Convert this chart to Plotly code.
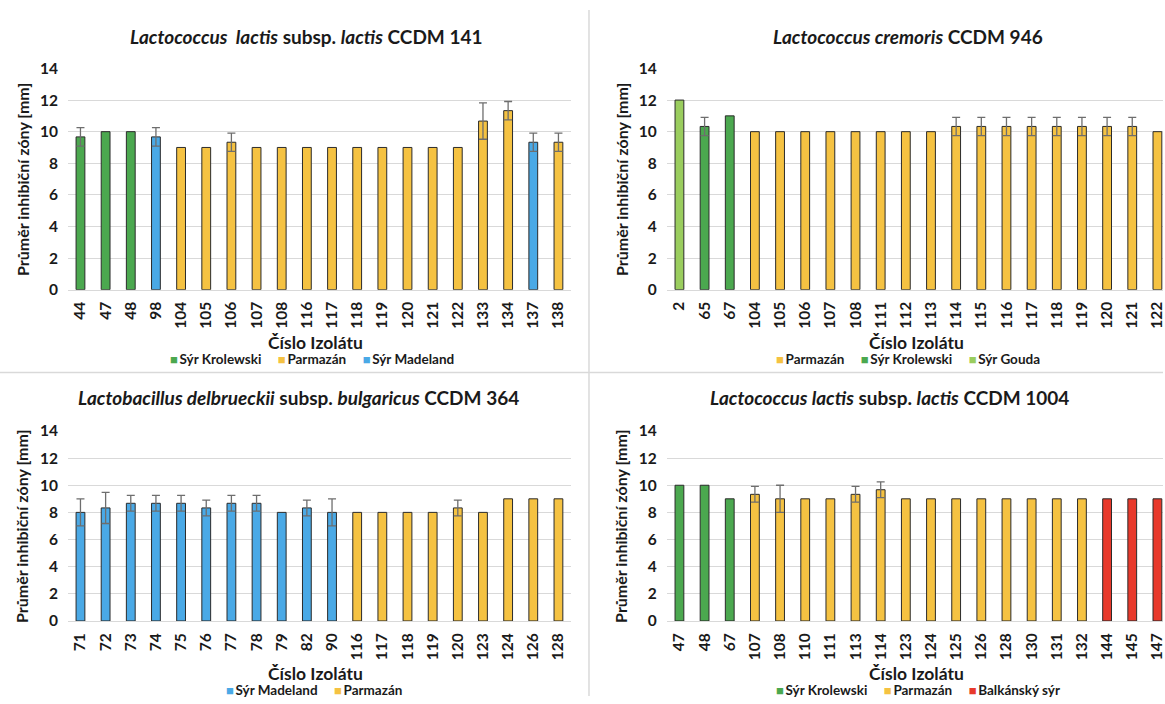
import plotly.graph_objects as go

W, H = 1165, 704

FONT = "Lato"
TXT = "#1a1a1a"
GRID = "#D9D9D9"

COLORS = {
    "Sýr Krolewski": "#4BA84F",
    "Parmazán": "#F5C242",
    "Sýr Madeland": "#4AA9E6",
    "Sýr Gouda": "#9ACD5E",
    "Balkánský sýr": "#E8392B",
}

# --- Lactococcus lactis subsp. lactis CCDM 141 ---
p1_ids = ["44", "47", "48", "98", "104", "105", "106", "107", "108", "116",
          "117", "118", "119", "120", "121", "122", "133", "134", "137", "138"]
p1_mean = [9.67, 10, 10, 9.67, 9, 9, 9.33, 9, 9, 9,
           9, 9, 9, 9, 9, 9, 10.67, 11.33, 9.33, 9.33]
p1_sd = [0.58, 0, 0, 0.58, 0, 0, 0.58, 0, 0, 0,
         0, 0, 0, 0, 0, 0, 1.15, 0.58, 0.58, 0.58]
p1_cheese = ["Sýr Krolewski"] * 3 + ["Sýr Madeland"] + ["Parmazán"] * 14 + ["Sýr Madeland", "Parmazán"]
p1_legend = ["Sýr Krolewski", "Parmazán", "Sýr Madeland"]

# --- Lactococcus cremoris CCDM 946 ---
p2_ids = ["2", "65", "67", "104", "105", "106", "107", "108", "111", "112",
          "113", "114", "115", "116", "117", "118", "119", "120", "121", "122"]
p2_mean = [12, 10.33, 11, 10, 10, 10, 10, 10, 10, 10,
           10, 10.33, 10.33, 10.33, 10.33, 10.33, 10.33, 10.33, 10.33, 10]
p2_sd = [0, 0.58, 0, 0, 0, 0, 0, 0, 0, 0,
         0, 0.58, 0.58, 0.58, 0.58, 0.58, 0.58, 0.58, 0.58, 0]
p2_cheese = ["Sýr Gouda"] + ["Sýr Krolewski"] * 2 + ["Parmazán"] * 17
p2_legend = ["Parmazán", "Sýr Krolewski", "Sýr Gouda"]

# --- Lactobacillus delbrueckii subsp. bulgaricus CCDM 364 ---
p3_ids = ["71", "72", "73", "74", "75", "76", "77", "78", "79", "82",
          "90", "116", "117", "118", "119", "120", "123", "124", "126", "128"]
p3_mean = [8, 8.33, 8.67, 8.67, 8.67, 8.33, 8.67, 8.67, 8, 8.33,
           8, 8, 8, 8, 8, 8.33, 8, 9, 9, 9]
p3_sd = [1, 1.15, 0.58, 0.58, 0.58, 0.58, 0.58, 0.58, 0, 0.58,
         1, 0, 0, 0, 0, 0.58, 0, 0, 0, 0]
p3_cheese = ["Sýr Madeland"] * 11 + ["Parmazán"] * 9
p3_legend = ["Sýr Madeland", "Parmazán"]

# --- Lactococcus lactis subsp. lactis CCDM 1004 ---
p4_ids = ["47", "48", "67", "107", "108", "110", "111", "113", "114", "123",
          "124", "125", "126", "128", "130", "131", "132", "144", "145", "147"]
p4_mean = [10, 10, 9, 9.33, 9, 9, 9, 9.33, 9.67, 9,
           9, 9, 9, 9, 9, 9, 9, 9, 9, 9]
p4_sd = [0, 0, 0, 0.58, 1, 0, 0, 0.58, 0.58, 0,
         0, 0, 0, 0, 0, 0, 0, 0, 0, 0]
p4_cheese = ["Sýr Krolewski"] * 3 + ["Parmazán"] * 14 + ["Balkánský sýr"] * 3
p4_legend = ["Sýr Krolewski", "Parmazán", "Balkánský sýr"]

TITLES = [
    "<i>Lactococcus  lactis</i> subsp. <i>lactis</i> CCDM 141",
    "<i>Lactococcus cremoris</i> CCDM 946",
    "<i>Lactobacillus delbrueckii</i> subsp. <i>bulgaricus</i> CCDM 364",
    "<i>Lactococcus lactis</i> subsp. <i>lactis</i> CCDM 1004",
]

# pixel geometry of the four plot areas (left, right, top, bottom)
BOXES = [
    (68, 572, 60, 287),
    (668, 1165, 60, 287),
    (68, 572, 432, 627),
    (668, 1165, 432, 627),
]
CAT_PX = (572 - 68) / 20.0

# title centre (x, y), axis-title x, legend x, per panel
TITLE_POS = [(307, 27), (910, 27), (299, 398), (891, 398)]
XTITLE_X = [316, 918, 316, 918]
LEGEND_X = [313, 910, 315, 920]


def px_x(v):
    return v / W


def px_y(v):
    return 1 - v / H


fig = go.Figure()

panels = [
    (p1_ids, p1_mean, p1_sd, p1_cheese, p1_legend),
    (p2_ids, p2_mean, p2_sd, p2_cheese, p2_legend),
    (p3_ids, p3_mean, p3_sd, p3_cheese, p3_legend),
    (p4_ids, p4_mean, p4_sd, p4_cheese, p4_legend),
]

annotations = []
layout_axes = {}

for k, (ids, mean, sd, cheese, order) in enumerate(panels):
    n = k + 1
    xa = "x" if n == 1 else f"x{n}"
    ya = "y" if n == 1 else f"y{n}"

    for name in order:
        idx = [i for i, c in enumerate(cheese) if c == name]
        fig.add_trace(go.Bar(
            x=[ids[i] for i in idx],
            y=[mean[i] for i in idx],
            name=name,
            width=0.35,
            marker=dict(color=COLORS[name], line=dict(color="#2b2b2b", width=1)),
            xaxis=xa, yaxis=ya, showlegend=False,
            hoverinfo="x+y",
        ))

    # standard deviation whiskers for the isolates that have them
    eidx = [i for i, s in enumerate(sd) if s > 0]
    fig.add_trace(go.Scatter(
        x=[ids[i] for i in eidx],
        y=[mean[i] for i in eidx],
        mode="markers",
        marker=dict(size=1, opacity=0),
        error_y=dict(type="data", array=[sd[i] for i in eidx], symmetric=True,
                     color="#6e6e6e", thickness=1.3, width=4),
        showlegend=False, hoverinfo="skip",
        xaxis=xa, yaxis=ya,
    ))

    l, r, t, b = BOXES[k]
    span = (r - l) / CAT_PX
    layout_axes["xaxis" if n == 1 else f"xaxis{n}"] = dict(
        domain=[px_x(l), px_x(r)],
        anchor=ya,
        type="category",
        categoryorder="array",
        categoryarray=ids,
        range=[-0.5, -0.5 + span],
        tickangle=-90,
        tickfont=dict(family=FONT, size=15.5, color=TXT, weight=700),
        showline=True, linecolor=GRID, linewidth=1,
        showgrid=False, ticks="",
        ticklabelstandoff=5,
        fixedrange=True,
    )
    layout_axes["yaxis" if n == 1 else f"yaxis{n}"] = dict(
        domain=[px_y(b), px_y(t)],
        anchor=xa,
        range=[0, 14],
        dtick=2,
        showgrid=True, gridcolor=GRID, gridwidth=1,
        zeroline=False, showline=False, ticks="",
        tickfont=dict(family=FONT, size=15.5, color=TXT, weight=700),
        ticklabelstandoff=9,
        fixedrange=True,
    )

    ox = 0 if k % 2 == 0 else 600
    tx, ty = TITLE_POS[k]
    # chart title
    annotations.append(dict(
        text=TITLES[k], xref="paper", yref="paper",
        x=px_x(tx), y=px_y(ty),
        xanchor="center", yanchor="middle", showarrow=False,
        font=dict(family=FONT, size=19, color=TXT, weight=700),
    ))
    # y axis title
    annotations.append(dict(
        text="Průměr inhibiční zóny [mm]", xref="paper", yref="paper",
        x=px_x(ox + 22), y=px_y((t + b) / 2), textangle=-90,
        xanchor="center", yanchor="middle", showarrow=False,
        font=dict(family=FONT, size=16, color=TXT, weight=700),
    ))
    # x axis title
    annotations.append(dict(
        text="Číslo Izolátu", xref="paper", yref="paper",
        x=px_x(XTITLE_X[k]), y=px_y(b + 54),
        xanchor="center", yanchor="middle", showarrow=False,
        font=dict(family=FONT, size=17.5, color=TXT, weight=700),
    ))
    # legend: coloured swatch followed by the cheese name
    items = [
        f'<span style="color:{COLORS[name]};font-size:13px">■</span>\u2009{name}'
        for name in order
    ]
    annotations.append(dict(
        text="     ".join(items), xref="paper", yref="paper",
        x=px_x(LEGEND_X[k]), y=px_y(b + 71),
        xanchor="center", yanchor="middle", showarrow=False,
        font=dict(family=FONT, size=13.5, color=TXT, weight=700),
    ))

# panel separators
shapes = [
    dict(type="line", xref="paper", yref="paper", x0=px_x(590), x1=px_x(590),
         y0=0, y1=1, line=dict(color=GRID, width=1.5)),
    dict(type="line", xref="paper", yref="paper", x0=0, x1=1,
         y0=px_y(372), y1=px_y(372), line=dict(color=GRID, width=1.5)),
]

fig.update_layout(
    width=W, height=H,
    margin=dict(l=0, r=0, t=0, b=0),
    paper_bgcolor="white", plot_bgcolor="white",
    barmode="overlay",
    showlegend=False,
    annotations=annotations,
    shapes=shapes,
    **layout_axes,
)

fig.write_html("out.html", include_plotlyjs=True, config={"displayModeBar": False})
